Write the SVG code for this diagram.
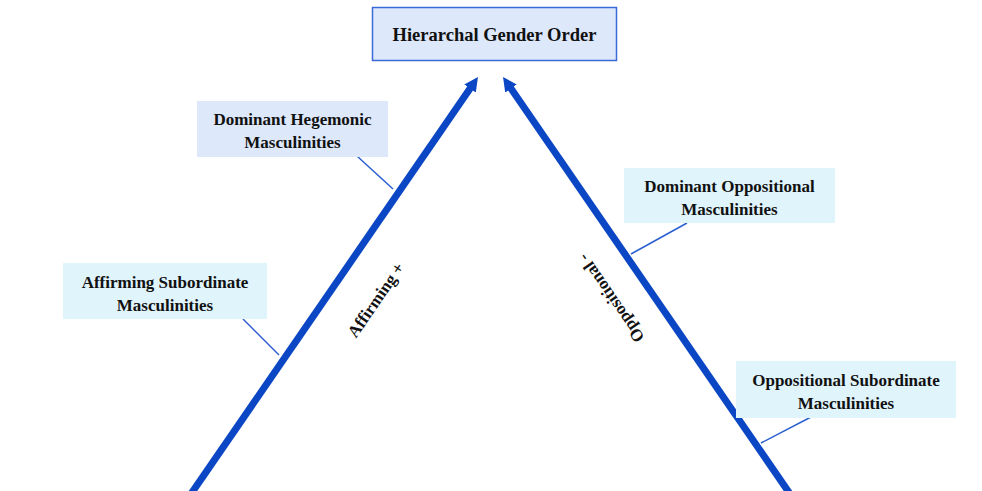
<svg xmlns="http://www.w3.org/2000/svg" width="982" height="491" viewBox="0 0 982 491">
<style>
.t{font-family:"Liberation Serif","Times New Roman",serif;font-weight:bold;fill:#111;text-anchor:middle}
.n{font-size:17px}
.main{stroke:#0b46c4;stroke-width:7;fill:none}
.conn{stroke:#2a5fd0;stroke-width:1.5;fill:none}
.bh{fill:#dde8fb}
.bc{fill:#e0f4fc}
</style>
<defs>
<marker id="ah" markerUnits="userSpaceOnUse" viewBox="0 0 16 16" markerWidth="16" markerHeight="16" refX="4" refY="8" orient="auto">
<path d="M0,1 L14,8 L0,15 z" fill="#0b46c4"/>
</marker>
</defs>
<rect width="982" height="491" fill="#fff"/>
<g id="connectors">
<line class="main" x1="188.2" y1="498" x2="472.3" y2="85.2" marker-end="url(#ah)"/>
<line class="main" x1="792.8" y1="498" x2="508.7" y2="85.2" marker-end="url(#ah)"/>
<line class="conn" x1="357.5" y1="156.5" x2="393" y2="189"/>
<line class="conn" x1="243" y1="319" x2="279" y2="355"/>
<line class="conn" x1="687" y1="223" x2="631" y2="254"/>
<line class="conn" x1="811" y1="417" x2="761" y2="443"/>
</g>
<g id="title">
<rect x="372.5" y="7.5" width="244" height="53" fill="#dde8fb" stroke="#3a6ad8" stroke-width="1.5"/>
<text class="t" x="494.5" y="40.5" font-size="18.5">Hierarchal Gender Order</text>
</g>
<g id="dominant-hegemonic">
<rect class="bh" x="197" y="101" width="191" height="56"/>
<text class="t n" x="292.5" y="124.5">Dominant Hegemonic</text>
<text class="t n" x="292.5" y="147.5">Masculinities</text>
</g>
<g id="affirming-subordinate">
<rect class="bc" x="63" y="263" width="204" height="56"/>
<text class="t n" x="165" y="287.5">Affirming Subordinate</text>
<text class="t n" x="165" y="310.5">Masculinities</text>
</g>
<g id="dominant-oppositional">
<rect class="bc" x="624" y="168" width="211" height="55"/>
<text class="t n" x="729.5" y="191.5">Dominant Oppositional</text>
<text class="t n" x="729.5" y="214.5">Masculinities</text>
</g>
<g id="oppositional-subordinate">
<rect class="bc" x="736" y="361" width="220" height="57"/>
<text class="t n" x="846" y="385.5">Oppositional Subordinate</text>
<text class="t n" x="846" y="408.5">Masculinities</text>
</g>
<g id="affirming-label">
<text class="t n" transform="translate(376,300) rotate(-55.4)" y="5.5">Affirming +</text>
</g>
<g id="oppositional-label">
<text class="t n" transform="translate(611,298) rotate(-124.6)" y="5.5">Oppositional -</text>
</g>
</svg>
